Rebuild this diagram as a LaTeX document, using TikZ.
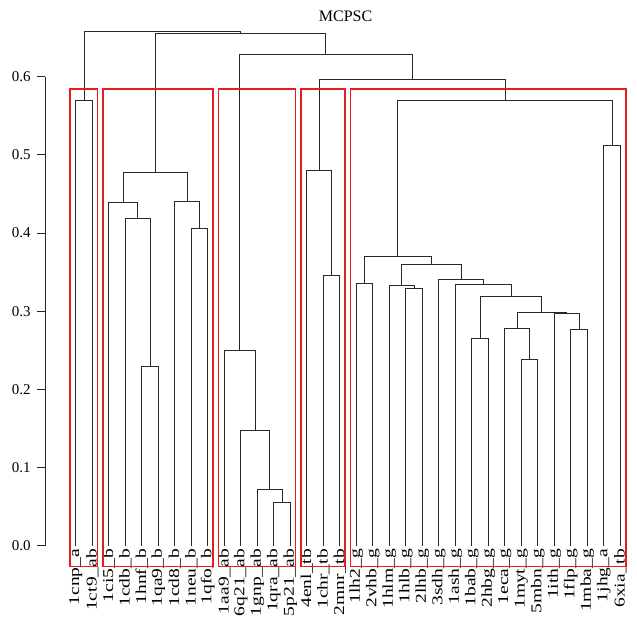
\documentclass[tikz,border=0pt]{standalone}
\usepackage{fontspec}
\setmainfont{Liberation Serif}
\usetikzlibrary{positioning}
\definecolor{treeGray}{RGB}{40,40,40}
\definecolor{boxRed}{RGB}{232,28,28}
\tikzset{
    treeLine/.style={
        draw=treeGray,
        line width=0.9pt
    },
    clusterBox/.style={
        draw=boxRed,
        line width=1.5pt
    },
    leafLabel/.style={
        rotate=90,
        xscale=1.3,
        anchor=east,
        inner sep=0pt,
        font=\fontsize{15}{15}\selectfont
    },
    axisLabel/.style={
        anchor=east,
        inner sep=0pt,
        font=\fontsize{15}{15}\selectfont
    }
}

\begin{document}
\begin{tikzpicture}
    \useasboundingbox (0,0) rectangle (637pt,621pt);
    \begin{scope}[x=16.5pt, y=781.7pt, shift={(75.8pt,75.3pt)}]
        % Title
        \node[font=\fontsize{16}{16}\selectfont] (title) at (16.35,0.6767) {MCPSC};

        % Height axis
        \coordinate (axisLow) at (-1.867,0);
        \coordinate (axisHigh) at (-1.867,0.6);
        \draw[treeLine] (axisLow) -- (axisHigh);
        \draw[treeLine] (-1.867,0.0) -- (-2.35,0.0) node[axisLabel, at end, xshift=-6pt] (tick0) {0.0};
        \draw[treeLine] (-1.867,0.1) -- (-2.35,0.1) node[axisLabel, at end, xshift=-6pt] (tick1) {0.1};
        \draw[treeLine] (-1.867,0.2) -- (-2.35,0.2) node[axisLabel, at end, xshift=-6pt] (tick2) {0.2};
        \draw[treeLine] (-1.867,0.3) -- (-2.35,0.3) node[axisLabel, at end, xshift=-6pt] (tick3) {0.3};
        \draw[treeLine] (-1.867,0.4) -- (-2.35,0.4) node[axisLabel, at end, xshift=-6pt] (tick4) {0.4};
        \draw[treeLine] (-1.867,0.5) -- (-2.35,0.5) node[axisLabel, at end, xshift=-6pt] (tick5) {0.5};
        \draw[treeLine] (-1.867,0.6) -- (-2.35,0.6) node[axisLabel, at end, xshift=-6pt] (tick6) {0.6};

        % Leaves
        \coordinate (1cnp) at (0,0);
        \coordinate (1ct9) at (1,0);
        \coordinate (1ci5) at (2,0);
        \coordinate (1cdb) at (3,0);
        \coordinate (1hnf) at (4,0);
        \coordinate (1qa9) at (5,0);
        \coordinate (1cd8) at (6,0);
        \coordinate (1neu) at (7,0);
        \coordinate (1qfo) at (8,0);
        \coordinate (1aa9) at (9,0);
        \coordinate (6q21) at (10,0);
        \coordinate (1gnp) at (11,0);
        \coordinate (1qra) at (12,0);
        \coordinate (5p21) at (13,0);
        \coordinate (4enl) at (14,0);
        \coordinate (1chr) at (15,0);
        \coordinate (2mnr) at (16,0);
        \coordinate (1lh2) at (17,0);
        \coordinate (2vhb) at (18,0);
        \coordinate (1hlm) at (19,0);
        \coordinate (1hlb) at (20,0);
        \coordinate (2lhb) at (21,0);
        \coordinate (3sdh) at (22,0);
        \coordinate (1ash) at (23,0);
        \coordinate (1bab) at (24,0);
        \coordinate (2hbg) at (25,0);
        \coordinate (1eca) at (26,0);
        \coordinate (1myt) at (27,0);
        \coordinate (5mbn) at (28,0);
        \coordinate (1ith) at (29,0);
        \coordinate (1flp) at (30,0);
        \coordinate (1mba) at (31,0);
        \coordinate (1jhg) at (32,0);
        \coordinate (6xia) at (33,0);

        % Leaf labels
        \node[leafLabel] (lab1cnp) at (0,-0.004) {1cnp\_a};
        \node[leafLabel] (lab1ct9) at (1,-0.004) {1ct9\_ab};
        \node[leafLabel] (lab1ci5) at (2,-0.004) {1ci5\_b};
        \node[leafLabel] (lab1cdb) at (3,-0.004) {1cdb\_b};
        \node[leafLabel] (lab1hnf) at (4,-0.004) {1hnf\_b};
        \node[leafLabel] (lab1qa9) at (5,-0.004) {1qa9\_b};
        \node[leafLabel] (lab1cd8) at (6,-0.004) {1cd8\_b};
        \node[leafLabel] (lab1neu) at (7,-0.004) {1neu\_b};
        \node[leafLabel] (lab1qfo) at (8,-0.004) {1qfo\_b};
        \node[leafLabel] (lab1aa9) at (9,-0.004) {1aa9\_ab};
        \node[leafLabel] (lab6q21) at (10,-0.004) {6q21\_ab};
        \node[leafLabel] (lab1gnp) at (11,-0.004) {1gnp\_ab};
        \node[leafLabel] (lab1qra) at (12,-0.004) {1qra\_ab};
        \node[leafLabel] (lab5p21) at (13,-0.004) {5p21\_ab};
        \node[leafLabel] (lab4enl) at (14,-0.004) {4enl\_tb};
        \node[leafLabel] (lab1chr) at (15,-0.004) {1chr\_tb};
        \node[leafLabel] (lab2mnr) at (16,-0.004) {2mnr\_tb};
        \node[leafLabel] (lab1lh2) at (17,-0.004) {1lh2\_g};
        \node[leafLabel] (lab2vhb) at (18,-0.004) {2vhb\_g};
        \node[leafLabel] (lab1hlm) at (19,-0.004) {1hlm\_g};
        \node[leafLabel] (lab1hlb) at (20,-0.004) {1hlb\_g};
        \node[leafLabel] (lab2lhb) at (21,-0.004) {2lhb\_g};
        \node[leafLabel] (lab3sdh) at (22,-0.004) {3sdh\_g};
        \node[leafLabel] (lab1ash) at (23,-0.004) {1ash\_g};
        \node[leafLabel] (lab1bab) at (24,-0.004) {1bab\_g};
        \node[leafLabel] (lab2hbg) at (25,-0.004) {2hbg\_g};
        \node[leafLabel] (lab1eca) at (26,-0.004) {1eca\_g};
        \node[leafLabel] (lab1myt) at (27,-0.004) {1myt\_g};
        \node[leafLabel] (lab5mbn) at (28,-0.004) {5mbn\_g};
        \node[leafLabel] (lab1ith) at (29,-0.004) {1ith\_g};
        \node[leafLabel] (lab1flp) at (30,-0.004) {1flp\_g};
        \node[leafLabel] (lab1mba) at (31,-0.004) {1mba\_g};
        \node[leafLabel] (lab1jhg) at (32,-0.004) {1jhg\_a};
        \node[leafLabel] (lab6xia) at (33,-0.004) {6xia\_tb};

        % Merges: a / ab
        \coordinate (mA) at (0.5,0.569);
        \draw[treeLine] (1cnp) |- (mA) -| (1ct9);

        % Merges: b
        \coordinate (m45) at (4.5,0.229);
        \coordinate (m3) at (3.75,0.419);
        \coordinate (m2) at (2.875,0.439);
        \coordinate (m78) at (7.5,0.406);
        \coordinate (m6) at (6.75,0.440);
        \coordinate (mB) at (4.8125,0.477);
        \draw[treeLine] (1hnf) |- (m45) -| (1qa9);
        \draw[treeLine] (1cdb) |- (m3) -| (m45);
        \draw[treeLine] (1ci5) |- (m2) -| (m3);
        \draw[treeLine] (1neu) |- (m78) -| (1qfo);
        \draw[treeLine] (1cd8) |- (m6) -| (m78);
        \draw[treeLine] (m2) |- (mB) -| (m6);

        % Merges: ab
        \coordinate (m1213) at (12.5,0.055);
        \coordinate (m11) at (11.75,0.072);
        \coordinate (m10) at (10.875,0.147);
        \coordinate (mAB) at (9.9375,0.250);
        \draw[treeLine] (1qra) |- (m1213) -| (5p21);
        \draw[treeLine] (1gnp) |- (m11) -| (m1213);
        \draw[treeLine] (6q21) |- (m10) -| (m11);
        \draw[treeLine] (1aa9) |- (mAB) -| (m10);

        % Merges: tb
        \coordinate (m1516) at (15.5,0.346);
        \coordinate (mTB) at (14.75,0.480);
        \draw[treeLine] (1chr) |- (m1516) -| (2mnr);
        \draw[treeLine] (4enl) |- (mTB) -| (m1516);

        % Merges: g
        \coordinate (m1718) at (17.5,0.336);
        \coordinate (m2021) at (20.5,0.329);
        \coordinate (m19) at (19.75,0.333);
        \coordinate (m2728) at (27.5,0.238);
        \coordinate (m26) at (26.75,0.278);
        \coordinate (m3031) at (30.5,0.276);
        \coordinate (m29) at (29.75,0.297);
        \coordinate (m2629) at (28.25,0.299);
        \coordinate (m2425) at (24.5,0.265);
        \coordinate (m24) at (26.375,0.319);
        \coordinate (m23) at (24.6875,0.334);
        \coordinate (m22) at (23.34375,0.340);
        \coordinate (m1922) at (21.546875,0.360);
        \coordinate (m17) at (19.523,0.370);
        \coordinate (m3233) at (32.5,0.512);
        \coordinate (mG) at (26.01,0.570);
        \draw[treeLine] (1lh2) |- (m1718) -| (2vhb);
        \draw[treeLine] (1hlb) |- (m2021) -| (2lhb);
        \draw[treeLine] (1hlm) |- (m19) -| (m2021);
        \draw[treeLine] (1myt) |- (m2728) -| (5mbn);
        \draw[treeLine] (1eca) |- (m26) -| (m2728);
        \draw[treeLine] (1flp) |- (m3031) -| (1mba);
        \draw[treeLine] (1ith) |- (m29) -| (m3031);
        \draw[treeLine] (m26) |- (m2629) -| (m29);
        \draw[treeLine] (1bab) |- (m2425) -| (2hbg);
        \draw[treeLine] (m2425) |- (m24) -| (m2629);
        \draw[treeLine] (1ash) |- (m23) -| (m24);
        \draw[treeLine] (3sdh) |- (m22) -| (m23);
        \draw[treeLine] (m19) |- (m1922) -| (m22);
        \draw[treeLine] (m1718) |- (m17) -| (m1922);
        \draw[treeLine] (1jhg) |- (m3233) -| (6xia);
        \draw[treeLine] (m17) |- (mG) -| (m3233);

        % Upper merges
        \coordinate (mGT) at (20.38,0.597);
        \coordinate (mABG) at (15.16,0.628);
        \coordinate (mR) at (9.99,0.655);
        \coordinate (mRoot) at (5.24,0.658);
        \draw[treeLine] (mTB) |- (mGT) -| (mG);
        \draw[treeLine] (mAB) |- (mABG) -| (mGT);
        \draw[treeLine] (mB) |- (mR) -| (mABG);
        \draw[treeLine] (mA) |- (mRoot) -| (mR);

        % Cluster boxes
        \draw[clusterBox] (-0.34,-0.0269) rectangle (1.33,0.584);
        \draw[clusterBox] (1.66,-0.0269) rectangle (8.33,0.584);
        \draw[clusterBox] (8.66,-0.0269) rectangle (13.33,0.584);
        \draw[clusterBox] (13.66,-0.0269) rectangle (16.33,0.584);
        \draw[clusterBox] (16.66,-0.0269) rectangle (33.33,0.584);
    \end{scope}
\end{tikzpicture}
\end{document}
